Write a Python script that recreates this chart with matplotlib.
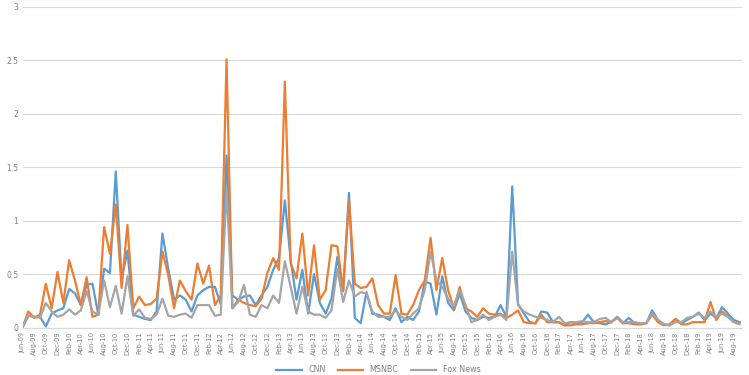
import matplotlib
matplotlib.use("Agg")
import matplotlib.pyplot as plt
import pandas as pd

# monthly categories Jun-09 .. Sep-19
months = pd.date_range("2009-06-01", "2019-09-01", freq="MS")
month_labels = [d.strftime("%b-%y") for d in months]

cnn = [0.00, 0.11, 0.10, 0.10, 0.01, 0.13, 0.16, 0.18, 0.36, 0.32,
       0.21, 0.40, 0.41, 0.12, 0.55, 0.51, 1.46, 0.45, 0.72, 0.12,
       0.10, 0.08, 0.07, 0.15, 0.88, 0.55, 0.26, 0.30, 0.26, 0.15,
       0.30, 0.35, 0.38, 0.38, 0.22, 1.61, 0.30, 0.26, 0.29, 0.30,
       0.21, 0.30, 0.38, 0.54, 0.65, 1.19, 0.63, 0.26, 0.54, 0.13,
       0.50, 0.23, 0.13, 0.27, 0.66, 0.34, 1.26, 0.09, 0.04, 0.33,
       0.13, 0.12, 0.10, 0.07, 0.18, 0.05, 0.10, 0.07, 0.15, 0.43,
       0.41, 0.12, 0.48, 0.23, 0.16, 0.32, 0.15, 0.09, 0.07, 0.10,
       0.09, 0.10, 0.21, 0.10, 1.32, 0.22, 0.13, 0.05, 0.04, 0.15,
       0.14, 0.05, 0.05, 0.02, 0.05, 0.04, 0.05, 0.12, 0.05, 0.04,
       0.03, 0.05, 0.10, 0.04, 0.09, 0.04, 0.03, 0.04, 0.16, 0.07,
       0.03, 0.02, 0.08, 0.04, 0.07, 0.10, 0.14, 0.07, 0.13, 0.09,
       0.19, 0.13, 0.07, 0.05]

msnbc = [0.00, 0.15, 0.09, 0.12, 0.41, 0.18, 0.52, 0.23, 0.63, 0.44,
         0.21, 0.47, 0.10, 0.12, 0.94, 0.69, 1.15, 0.37, 0.96, 0.18,
         0.29, 0.21, 0.22, 0.27, 0.71, 0.49, 0.18, 0.44, 0.34, 0.26,
         0.60, 0.41, 0.58, 0.21, 0.30, 2.51, 0.18, 0.26, 0.23, 0.21,
         0.20, 0.27, 0.51, 0.65, 0.54, 2.30, 0.60, 0.46, 0.88, 0.30,
         0.77, 0.26, 0.35, 0.77, 0.76, 0.35, 1.19, 0.41, 0.37, 0.38,
         0.46, 0.21, 0.13, 0.13, 0.49, 0.13, 0.12, 0.21, 0.35, 0.44,
         0.84, 0.35, 0.65, 0.35, 0.18, 0.38, 0.18, 0.15, 0.10, 0.18,
         0.13, 0.12, 0.13, 0.09, 0.12, 0.16, 0.05, 0.04, 0.04, 0.12,
         0.05, 0.05, 0.05, 0.02, 0.02, 0.03, 0.03, 0.04, 0.04, 0.05,
         0.06, 0.05, 0.09, 0.04, 0.04, 0.03, 0.03, 0.04, 0.12, 0.05,
         0.02, 0.03, 0.08, 0.03, 0.03, 0.05, 0.05, 0.05, 0.24, 0.07,
         0.15, 0.10, 0.05, 0.05]

fox = [0.00, 0.11, 0.10, 0.09, 0.23, 0.15, 0.10, 0.12, 0.17, 0.12,
       0.16, 0.34, 0.15, 0.12, 0.44, 0.19, 0.39, 0.13, 0.48, 0.11,
       0.17, 0.09, 0.08, 0.12, 0.27, 0.11, 0.10, 0.12, 0.13, 0.09,
       0.21, 0.21, 0.21, 0.11, 0.12, 1.30, 0.18, 0.24, 0.40, 0.12,
       0.10, 0.21, 0.18, 0.30, 0.23, 0.62, 0.38, 0.13, 0.38, 0.15,
       0.12, 0.12, 0.09, 0.16, 0.55, 0.24, 0.44, 0.29, 0.33, 0.32,
       0.15, 0.10, 0.10, 0.10, 0.16, 0.10, 0.07, 0.13, 0.18, 0.35,
       0.71, 0.44, 0.38, 0.27, 0.20, 0.35, 0.21, 0.05, 0.07, 0.12,
       0.07, 0.10, 0.12, 0.07, 0.71, 0.21, 0.15, 0.12, 0.10, 0.09,
       0.07, 0.05, 0.10, 0.04, 0.05, 0.05, 0.06, 0.05, 0.05, 0.08,
       0.09, 0.05, 0.10, 0.05, 0.05, 0.05, 0.04, 0.04, 0.13, 0.07,
       0.03, 0.02, 0.05, 0.05, 0.09, 0.10, 0.13, 0.09, 0.15, 0.10,
       0.13, 0.10, 0.05, 0.03]

series = [("CNN", cnn, "#5B9BD5"),
          ("MSNBC", msnbc, "#ED7D31"),
          ("Fox News", fox, "#A5A5A5")]

W, H = 749, 375
fig = plt.figure(figsize=(W / 100, H / 100), dpi=100)
step = 5.83
ax = fig.add_axes([22.5 / W, 47.5 / H, 123.4 * step / W, 320.5 / H])

x = list(range(len(months)))
for name, vals, col in series:
    ax.plot(x, vals, color=col, lw=1.6, label=name, solid_joinstyle="round")

ax.set_xlim(0, 123.4)
ax.set_ylim(0, 3)
ax.set_yticks([0, 0.5, 1, 1.5, 2, 2.5, 3])
ax.set_yticklabels(["0", "0.5", "1", "1.5", "2", "2.5", "3"])
ax.set_xticks(x[::2])
ax.set_xticklabels(month_labels[::2], rotation=90)
ax.tick_params(axis="y", length=0, labelsize=5.5, colors="#7F7F7F", pad=3)
ax.tick_params(axis="x", length=0, labelsize=4.8, colors="#7F7F7F", pad=3)
ax.grid(axis="y", color="#D9D9D9", lw=0.8)
ax.set_axisbelow(True)
for s in ["top", "right", "left"]:
    ax.spines[s].set_visible(False)
ax.spines["bottom"].set_color("#D9D9D9")

fig.legend(loc="lower center", bbox_to_anchor=(0.505, -0.018), ncol=3,
           frameon=False, fontsize=5.8, handlelength=3.2, columnspacing=1.5,
           labelcolor="#7F7F7F")

fig.savefig("out.png", dpi=100)
